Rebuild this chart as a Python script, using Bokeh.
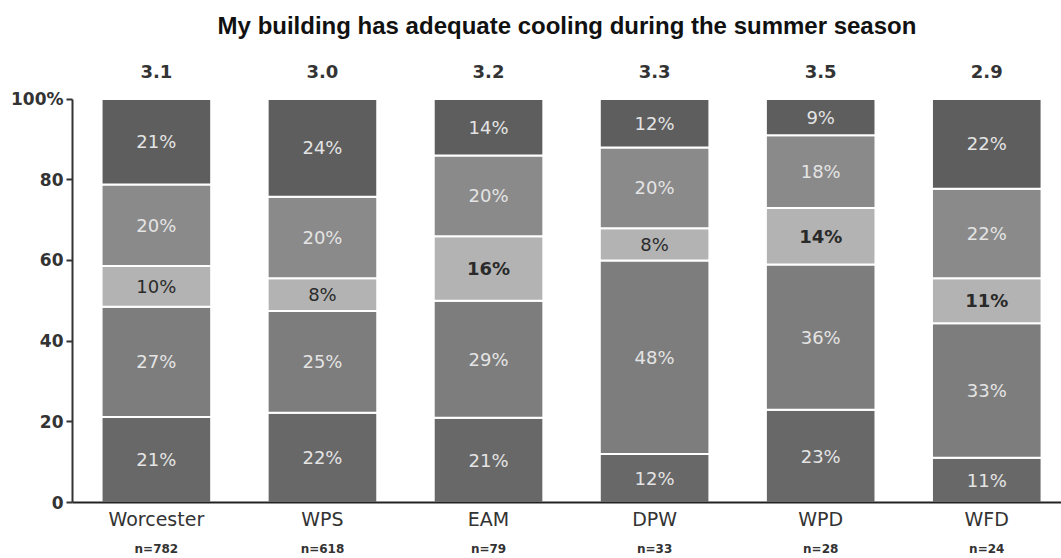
from bokeh.plotting import figure
from bokeh.models import ColumnDataSource, FixedTicker, LinearAxis, Range1d
from bokeh.core.properties import value
from bokeh.embed import file_html
from bokeh.resources import INLINE

categories = ["Worcester", "WPS", "EAM", "DPW", "WPD", "WFD"]
n_labels = ["n=782", "n=618", "n=79", "n=33", "n=28", "n=24"]
means = ["3.1", "3.0", "3.2", "3.3", "3.5", "2.9"]
seg1 = [21, 22, 21, 12, 23, 11]
seg2 = [27, 25, 29, 48, 36, 33]
seg3 = [10, 8, 16, 8, 14, 11]
seg4 = [20, 20, 20, 20, 18, 22]
seg5 = [21, 24, 14, 12, 9, 22]
y_ticks = [0, 20, 40, 60, 80, 100]

series = [seg1, seg2, seg3, seg4, seg5]
colors = ["#686868", "#7d7d7d", "#b3b3b3", "#8a8a8a", "#5e5e5e"]
label_colors = ["#e4e4e4", "#e4e4e4", "#2a2a2a", "#e4e4e4", "#e4e4e4"]
mid_bold = [False, False, True, False, True, True]

xs = list(range(len(categories)))

p = figure(width=1061, height=556, frame_width=989, frame_height=464,
           x_range=Range1d(-0.505, 5.45), y_range=Range1d(0, 115),
           output_backend="svg", toolbar_location=None,
           min_border_left=72, min_border_right=0, min_border_top=38, min_border_bottom=0,
           title="My building has adequate cooling during the summer season")
p.title.align = "center"
p.title.text_font = "Liberation Sans"
p.title.text_font_size = "24px"
p.title.text_font_style = "bold"
p.title.text_color = "#111111"
p.title.standoff = 0
p.outline_line_color = None
p.xgrid.visible = False
p.ygrid.visible = False
p.background_fill_color = "white"
p.border_fill_color = "white"

totals = [sum(s[i] for s in series) for i in xs]
bottoms = [0.0] * len(xs)
for k, s in enumerate(series):
    b = list(bottoms)
    t = [b[i] + s[i] * 100.0 / totals[i] for i in xs]
    mid = [(b[i] + t[i]) / 2 for i in xs]
    styles = [("bold" if (k == 2 and mid_bold[i]) else "normal") for i in xs]
    src = ColumnDataSource(dict(x=xs, bottom=b, top=t, mid=mid,
                                txt=[f"{v}%" for v in s], style=styles))
    p.vbar(x="x", bottom="bottom", top="top", width=0.66, source=src,
           fill_color=colors[k], line_color="white", line_width=2)
    p.text(x="x", y="mid", text="txt", source=src, text_align="center",
           text_baseline="middle", text_font=value("DejaVu Sans"),
           text_font_size="18px", text_color=label_colors[k],
           text_font_style="style")
    bottoms = t

msrc = ColumnDataSource(dict(x=xs, y=[106.7] * len(xs), txt=means))
p.text(x="x", y="y", text="txt", source=msrc, text_align="center",
       text_baseline="middle", text_font=value("DejaVu Sans"),
       text_font_size="18px", text_font_style="bold", text_color="#333333")

# y axis
p.yaxis.ticker = FixedTicker(ticks=y_ticks)
p.yaxis.major_label_overrides = {100: "100%"}
p.yaxis.bounds = (0, 100)
p.yaxis.axis_line_color = "#333333"
p.yaxis.axis_line_width = 2
p.yaxis.major_tick_out = 6
p.yaxis.major_tick_in = 0
p.yaxis.major_tick_line_color = "#333333"
p.yaxis.major_tick_line_width = 2
p.yaxis.minor_tick_line_color = None
p.yaxis.major_label_text_font = "DejaVu Sans"
p.yaxis.major_label_text_font_size = "17px"
p.yaxis.major_label_text_font_style = "bold"
p.yaxis.major_label_text_color = "#333333"
p.yaxis.major_label_standoff = 3

# x axis (category names)
p.xaxis.ticker = FixedTicker(ticks=xs)
p.xaxis.major_label_overrides = {i: c for i, c in zip(xs, categories)}
p.xaxis.axis_line_color = "#222222"
p.xaxis.axis_line_width = 2
p.xaxis.major_tick_out = 0
p.xaxis.major_tick_in = 0
p.xaxis.minor_tick_line_color = None
p.xaxis.major_label_text_font = "DejaVu Sans"
p.xaxis.major_label_text_font_size = "19px"
p.xaxis.major_label_text_color = "#333333"
p.xaxis.major_label_standoff = 5

# second axis (n labels)
ax2 = LinearAxis(ticker=FixedTicker(ticks=xs),
                 major_label_overrides={i: n for i, n in zip(xs, n_labels)})
ax2.axis_line_color = None
ax2.major_tick_line_color = None
ax2.minor_tick_line_color = None
ax2.major_label_text_font = "DejaVu Sans"
ax2.major_label_text_font_size = "12px"
ax2.major_label_text_font_style = "bold"
ax2.major_label_text_color = "#333333"
ax2.major_label_standoff = 3
p.add_layout(ax2, "below")

open("out.html", "w").write(file_html(p, INLINE))
